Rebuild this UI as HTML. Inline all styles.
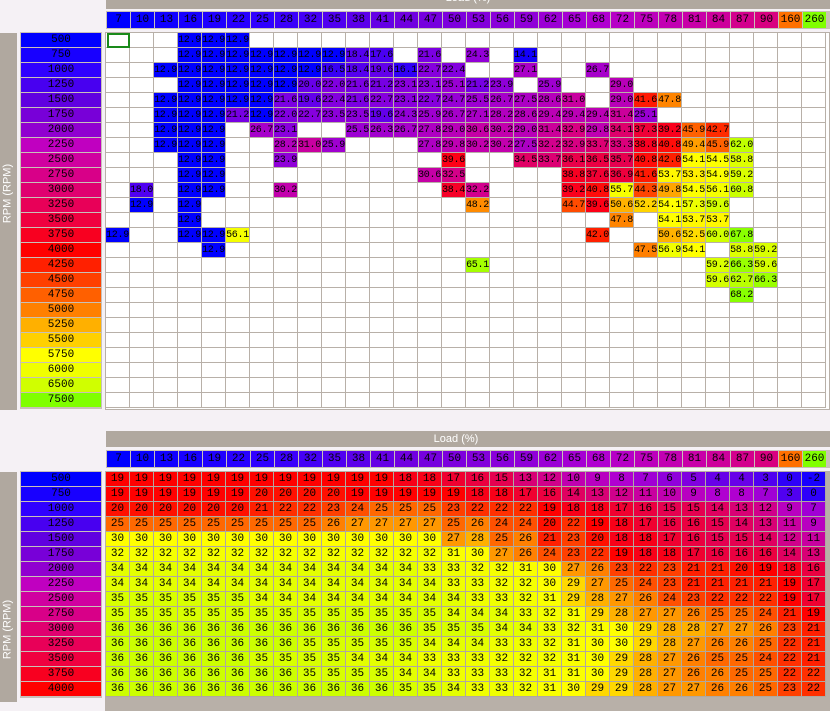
<!DOCTYPE html>
<html><head><meta charset="utf-8">
<style>
html,body{margin:0;padding:0;width:830px;height:697px;overflow:hidden;background:#f5f1f5;font-family:"Liberation Mono","DejaVu Sans Mono",monospace;}
.a{position:absolute;box-sizing:border-box;}
.c{position:absolute;box-sizing:border-box;font-size:10px;line-height:15px;text-align:center;color:#000;white-space:nowrap;overflow:hidden;}
.bar{position:absolute;background:#b0a89f;}
</style></head><body>
<div id="root"></div>
<script>
function hx(c){return [parseInt(c.substr(1,2),16),parseInt(c.substr(3,2),16),parseInt(c.substr(5,2),16)];}
function interp(st,v){
 if(v<=st[0][0])return st[0][1];
 for(var i=1;i<st.length;i++){if(v<=st[i][0]){var a=st[i-1],b=st[i];var t=(v-a[0])/(b[0]-a[0]);var x=hx(a[1]),y=hx(b[1]);
 return 'rgb('+Math.round(x[0]+(y[0]-x[0])*t)+','+Math.round(x[1]+(y[1]-x[1])*t)+','+Math.round(x[2]+(y[2]-x[2])*t)+')';}}
 return st[st.length-1][1];}
var topS=[[12.9,'#0000ff'],[18,'#5000f0'],[22,'#8000e0'],[26,'#a000d0'],[30,'#c000b0'],[33,'#d80080'],[36,'#e8004a'],[40,'#ff0010'],[42,'#ff2000'],[45,'#ff5000'],[48,'#ff8800'],[51,'#ffb800'],[54,'#ffff00'],[57,'#f0ff00'],[60,'#d0ff00'],[64,'#b0ff00'],[68,'#88ff00']];
var botS=[[-2,'#1800ff'],[3,'#5000f0'],[5,'#8000e0'],[8,'#b000d0'],[11,'#c800a0'],[14,'#e00060'],[17,'#f00030'],[19,'#ff0000'],[22,'#ff3000'],[24,'#ff5000'],[26,'#ff8000'],[28,'#ffb000'],[30,'#ffff00'],[33,'#f0ff00'],[35,'#d8ff00'],[36,'#ccff00']];
var rowS=[[0,'#0000ff'],[2,'#3000ff'],[4,'#6000e0'],[6,'#9000d0'],[7,'#c000c0'],[8,'#d000a0'],[10,'#e00070'],[12,'#f00040'],[14,'#ff0000'],[15,'#ff2000'],[16,'#ff4000'],[17,'#ff6000'],[18,'#ff8000'],[19,'#ffb000'],[20,'#ffd000'],[21,'#ffff00'],[22,'#f0ff00'],[23,'#d0ff00'],[24,'#80ff00']];
var hdrS=[[0,'#0000ff'],[6,'#3000ff'],[12,'#7000e0'],[17,'#9000d8'],[20,'#b000d0'],[24,'#c800a8'],[27,'#d80080']];
var loads=['7','10','13','16','19','22','25','28','32','35','38','41','44','47','50','53','56','59','62','65','68','72','75','78','81','84','87','90','160','260'];
var rpms=['500','750','1000','1250','1500','1750','2000','2250','2500','2750','3000','3250','3500','3750','4000','4250','4500','4750','5000','5250','5500','5750','6000','6500','7500'];
var H='';
function box(x,y,w,h,st,txt){H+='<div class="c" style="left:'+x+'px;top:'+y+'px;width:'+w+'px;height:'+h+'px;'+st+'">'+(txt||'')+'</div>';}
function hcol(i){if(i==28)return '#ff7000';if(i==29)return '#80ff00';return interp(hdrS,i);}
// TOP TABLE
H+='<div class="bar" style="left:106px;top:0;width:724px;height:9px;"></div>';
H+='<div class="c" style="left:106px;top:-9px;width:724px;height:15px;color:#fff;font-family:Liberation Sans,sans-serif;font-size:11px;">Load (%)</div>';
function header(y){
 H+='<div class="a" style="left:106px;top:'+y+'px;width:724px;height:18px;background:#c8c0b8;"></div>';
 for(var i=0;i<30;i++)box(107+24*i,y+1,23,16,'background:'+hcol(i)+';line-height:16px;font-size:11px;',loads[i]);}
header(11);
// grid
H+='<div class="a" style="left:105px;top:32px;width:725px;height:378px;background:#fff;border:1px solid #b8b0a8;"></div>';
var T={
0:{3:12.9,4:12.9,5:12.9},
1:{3:12.9,4:12.9,5:12.9,6:12.9,7:12.9,8:12.9,9:12.9,10:18.4,11:17.6,13:21.6,15:24.3,17:14.1},
2:{2:12.9,3:12.9,4:12.9,5:12.9,6:12.9,7:12.9,8:12.9,9:16.5,10:18.4,11:19.6,12:16.1,13:22.7,14:22.4,17:27.1,20:26.7},
3:{3:12.9,4:12.9,5:12.9,6:12.9,7:12.9,8:'20.0',9:'22.0',10:21.6,11:21.2,12:23.1,13:23.1,14:25.1,15:21.2,16:23.9,18:25.9,21:'29.0'},
4:{2:12.9,3:12.9,4:12.9,5:12.9,6:12.9,7:21.6,8:19.6,9:22.4,10:21.6,11:22.7,12:23.1,13:22.7,14:24.7,15:25.5,16:26.7,17:27.5,18:28.6,19:'31.0',21:'29.0',22:41.6,23:47.8},
5:{2:12.9,3:12.9,4:12.9,5:21.2,6:12.9,7:'22.0',8:22.7,9:23.5,10:23.5,11:19.6,12:24.3,13:25.9,14:26.7,15:27.1,16:28.2,17:28.6,18:29.4,19:29.4,20:29.4,21:31.4,22:25.1},
6:{2:12.9,3:12.9,4:12.9,6:26.7,7:23.1,10:25.5,11:26.3,12:26.7,13:27.8,14:'29.0',15:30.6,16:30.2,17:'29.0',18:31.4,19:32.9,20:29.8,21:34.1,22:37.3,23:39.2,24:45.9,25:42.7},
7:{2:12.9,3:12.9,4:12.9,7:28.2,8:'31.0',9:25.9,13:27.8,14:29.8,15:30.2,16:30.2,17:27.5,18:32.2,19:32.9,20:33.7,21:33.3,22:38.8,23:40.8,24:49.4,25:45.9,26:'62.0'},
8:{3:12.9,4:12.9,7:23.9,14:39.6,17:34.5,18:33.7,19:36.1,20:36.5,21:35.7,22:40.8,23:'42.0',24:54.1,25:54.5,26:58.8},
9:{3:12.9,4:12.9,13:30.6,14:32.5,19:38.8,20:37.6,21:36.9,22:41.6,23:53.7,24:53.3,25:54.9,26:59.2},
10:{1:'18.0',3:12.9,4:12.9,7:30.2,14:38.4,15:32.2,19:39.2,20:40.8,21:55.7,22:44.3,23:49.8,24:54.5,25:56.1,26:60.8},
11:{1:12.9,3:12.9,15:48.2,19:44.7,20:39.6,21:50.6,22:52.2,23:54.1,24:57.3,25:59.6},
12:{3:12.9,21:47.8,23:54.1,24:53.7,25:53.7},
13:{0:12.9,3:12.9,4:12.9,5:56.1,20:'42.0',23:50.6,24:52.5,25:'60.0',26:67.8},
14:{4:12.9,22:47.5,23:56.9,24:54.1,26:58.8,27:59.2},
15:{15:65.1,25:59.2,26:66.3,27:59.6},
16:{25:59.6,26:62.7,27:66.3},
17:{26:68.2}};
for(var r=0;r<25;r++){
 var y=33+15*r;
 for(var i=0;i<30;i++){
  var v=T[r]&&T[r][i];
  var bg=v!==undefined?interp(topS,parseFloat(v)):'#fff';
  box(106+24*i,y,24,15,'background:'+bg+';border-right:1px solid #b8b0a8;border-bottom:1px solid #b8b0a8;letter-spacing:-0.3px;',v!==undefined?String(v):'');
 }
}
H+='<div class="a" style="left:107px;top:33px;width:23px;height:15px;border:2px solid #1a8a1a;"></div>';
// row labels top
function rowlabels(y0,n){
 H+='<div class="a" style="left:20px;top:'+(y0-1)+'px;width:82px;height:'+(15*n+2)+'px;background:#c8c0b8;"></div>';
 for(var r=0;r<n;r++)box(21,y0+15*r,80,14,'background:'+interp(rowS,r)+';font-size:11px;line-height:14px;',rpms[r]);}
rowlabels(33,25);
H+='<div class="bar" style="left:0;top:33px;width:17px;height:377px;"></div>';
H+='<div class="c" style="left:-42px;top:186px;width:100px;height:15px;transform:rotate(-90deg);color:#fff;font-family:Liberation Sans,sans-serif;font-size:11px;">RPM (RPM)</div>';
// BOTTOM TABLE
H+='<div class="bar" style="left:106px;top:431px;width:724px;height:16px;"></div>';
H+='<div class="c" style="left:106px;top:431px;width:700px;height:16px;color:#fff;font-family:Liberation Sans,sans-serif;font-size:11px;line-height:16px;">Load (%)</div>';
header(450);
var B=[
[19,19,19,19,19,19,19,19,19,19,19,19,18,18,17,16,15,13,12,10,9,8,7,6,5,4,4,3,0,-2],
[19,19,19,19,19,19,20,20,20,20,19,19,19,19,19,18,18,17,16,14,13,12,11,10,9,8,8,7,3,0],
[20,20,20,20,20,20,21,22,22,23,24,25,25,25,23,22,22,22,19,18,18,17,16,15,15,14,13,12,9,7],
[25,25,25,25,25,25,25,25,25,26,27,27,27,27,25,26,24,24,20,22,19,18,17,16,16,15,14,13,11,9],
[30,30,30,30,30,30,30,30,30,30,30,30,30,30,27,28,25,26,21,23,20,18,18,17,16,15,15,14,12,11],
[32,32,32,32,32,32,32,32,32,32,32,32,32,32,31,30,27,26,24,23,22,19,18,18,17,16,16,16,14,13],
[34,34,34,34,34,34,34,34,34,34,34,34,34,33,33,32,32,31,30,27,26,23,22,23,21,21,20,19,18,16],
[34,34,34,34,34,34,34,34,34,34,34,34,34,34,33,33,32,32,30,29,27,25,24,23,21,21,21,21,19,17],
[35,35,35,35,35,35,34,34,34,34,34,34,34,34,34,33,33,32,31,29,28,27,26,24,23,22,22,22,19,17],
[35,35,35,35,35,35,35,35,35,35,35,35,35,35,34,34,34,33,32,31,29,28,27,27,26,25,25,24,21,19],
[36,36,36,36,36,36,36,36,36,36,36,36,36,35,35,35,34,34,33,32,31,30,29,28,28,27,27,26,23,21],
[36,36,36,36,36,36,36,36,35,35,35,35,35,34,34,34,33,33,32,31,30,30,29,28,27,26,26,25,22,21],
[36,36,36,36,36,36,35,35,35,35,34,34,34,33,33,33,32,32,32,31,30,29,28,27,26,25,25,24,22,21],
[36,36,36,36,36,36,36,36,35,35,35,35,34,34,33,33,33,32,31,31,30,29,28,27,26,26,25,25,22,22],
[36,36,36,36,36,36,36,36,36,36,36,36,35,35,34,33,33,32,31,30,29,29,28,27,27,26,26,25,23,22]];
H+='<div class="a" style="left:105px;top:471px;width:725px;height:240px;background:#b8b0a8;"></div>';
for(var r=0;r<B.length;r++){
 var y=472+15*r;
 for(var i=0;i<30;i++){
  box(106+24*i,y,24,15,'background:'+interp(botS,B[r][i])+';border-right:1px solid #b0a8a0;border-bottom:1px solid #b0a8a0;font-size:11px;',String(B[r][i]));
 }
}
rowlabels(472,15);
H+='<div class="bar" style="left:0;top:472px;width:17px;height:230px;"></div>';
H+='<div class="c" style="left:-42px;top:622px;width:100px;height:15px;transform:rotate(-90deg);color:#fff;font-family:Liberation Sans,sans-serif;font-size:11px;">RPM (RPM)</div>';
document.getElementById('root').innerHTML=H;
</script>
</body></html>
